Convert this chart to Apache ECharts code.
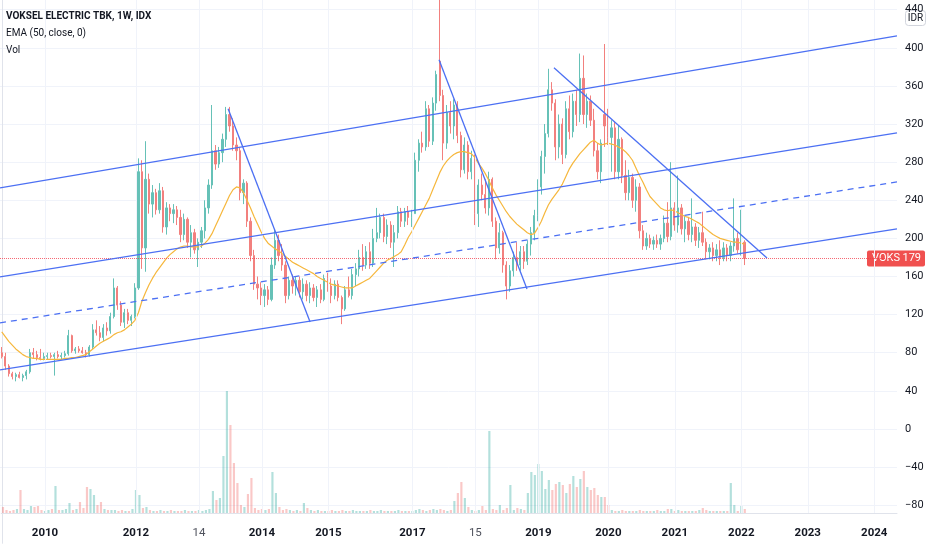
<!DOCTYPE html>
<html>
<head>
<meta charset="utf-8">
<script src="https://cdn.jsdelivr.net/npm/echarts@6/dist/echarts.min.js"></script>
<style>
html, body { margin: 0; padding: 0; background: #fff; }
#main { width: 932px; height: 550px; }
</style>
</head>
<body>
<div id="main"></div>
<script>
// weekly bars, grouped roughly three weeks per slot
var opens = [
  80,76,66,58,55,57,54,56,60,80, 78,75,74,76,77,76,78,76,77,79,
  98,82,84,82,80,78,86,104,101,96, 106,103,118,148,130,112,122,114,118,148,
  270,190,262,236,248,230,250,212,232,226, 230,222,204,220,196,206,188,196,208,232,
  256,292,278,290,304,330,318,298,292,248, 258,218,182,152,148,140,146,136,172,198,
  182,172,140,156,150,156,144,152,140,148, 138,146,136,158,150,140,152,138,126,146,
  140,162,168,180,172,186,174,200,206,222, 202,214,196,206,228,218,228,222,226,282,
  300,296,336,302,342,386,350,300,332,318, 340,308,272,298,270,284,226,256,246,232,
  262,218,190,206,172,150,166,180,172,186, 176,194,206,224,254,286,310,356,342,296,
  320,288,336,312,344,330,368,330,344,324, 292,270,330,318,306,316,270,304,266,248,
  264,240,254,208,192,200,194,198,194,200, 216,202,232,214,232,210,218,204,212,198,
  206,196,186,190,182,188,180,190,182,192, 200,188,196
];
var highs = [
  86,80,68,60,59,60,58,62,84,85, 82,84,80,80,80,80,82,80,82,104,
  99,86,87,86,83,88,110,114,108,110, 112,122,158,150,134,126,126,120,153,284,
  282,302,268,256,252,258,254,238,236,236, 234,230,226,222,214,210,200,212,240,262,
  340,298,296,310,338,338,326,306,296,262, 260,222,188,160,154,152,150,180,210,204,
  194,176,160,162,160,160,158,156,154,152, 150,152,162,164,158,156,156,140,150,160,
  168,174,188,194,192,196,210,232,226,226, 220,218,214,234,232,232,234,230,290,304,
  312,344,340,348,376,452,356,340,344,346, 344,312,306,302,292,288,262,268,262,270,
  264,222,216,208,176,172,186,196,192,192, 198,212,230,262,292,320,378,364,346,330,
  326,344,350,352,356,394,392,352,350,336, 300,304,404,336,324,322,318,306,282,272,
  268,262,258,214,206,204,202,204,204,224, 238,280,238,266,236,224,222,242,216,212,
  228,200,194,196,194,198,196,194,196,242, 206,230,198
];
var lows = [
  74,62,55,52,50,53,50,52,58,74, 72,72,72,73,74,56,74,73,75,77,
  80,79,80,79,75,76,84,98,92,92, 98,100,116,125,108,106,110,108,116,146,
  168,165,226,222,225,226,206,204,218,216, 214,196,198,190,180,184,170,190,200,226,
  252,272,274,280,296,312,292,282,240,236, 212,176,146,136,130,128,130,134,168,176,
  166,132,136,142,140,138,136,134,132,134, 128,132,134,144,132,136,134,110,124,138,
  136,150,160,166,168,168,170,196,200,196, 194,190,170,200,212,212,214,212,226,270,
  290,292,296,298,334,344,282,294,310,304, 300,264,268,262,262,214,212,240,226,224,
  212,178,184,164,136,144,160,166,166,168, 172,182,198,218,246,268,306,334,282,284,
  278,284,304,306,318,322,320,316,318,286, 262,258,296,298,270,262,262,258,240,240,
  232,228,200,188,188,190,188,190,188,196, 196,198,208,206,204,196,198,196,192,190,
  192,178,178,176,176,172,176,176,176,186, 184,182,172
];
var closes = [
  76,66,58,55,57,54,56,60,80,78, 75,74,76,77,76,78,76,77,79,98,
  82,84,82,80,78,86,104,101,96,106, 103,118,148,130,112,122,114,118,148,270,
  190,262,236,248,230,250,212,232,226,230, 222,204,220,196,206,188,196,208,232,256,
  292,278,290,304,330,318,298,292,248,258, 218,182,152,148,140,146,136,172,198,182,
  172,140,156,150,156,144,152,140,148,138, 146,136,158,150,140,152,138,126,146,140,
  162,168,180,172,186,174,200,206,222,202, 214,196,206,228,218,228,222,226,282,300,
  296,336,302,342,372,350,300,332,318,340, 308,272,298,270,284,226,256,246,232,262,
  218,190,206,172,150,166,180,172,186,176, 194,206,224,254,286,310,356,342,296,320,
  288,336,312,344,330,368,330,344,324,292, 270,300,318,306,316,270,304,266,248,264,
  240,254,208,192,200,194,198,194,200,216, 202,232,214,232,210,218,204,212,198,206,
  196,186,190,182,188,180,190,182,192,200, 188,196,179
];
var volumes = [
  6,3,2,3,4,23,4,3,7,6, 7,3,2,3,4,27,3,3,4,10,
  3,4,11,5,26,24,18,8,11,4, 3,3,3,2,3,2,2,4,23,18,
  5,6,3,2,2,3,2,2,3,2, 2,2,3,2,2,2,3,2,3,4,
  22,13,15,57,122,88,50,30,8,6, 19,35,5,3,4,3,4,41,20,6,
  3,4,3,2,3,2,10,5,3,2, 3,2,2,2,3,2,2,3,2,2,
  3,2,2,2,2,3,2,2,3,2, 2,2,2,3,2,2,2,2,3,4,
  3,2,3,4,3,4,3,2,3,12, 20,31,15,6,3,2,3,7,3,82,
  4,3,8,3,5,28,3,5,4,3, 20,41,38,49,42,24,33,23,29,31,
  28,20,29,37,26,34,42,26,23,25, 18,16,16,8,3,2,2,3,2,2,
  2,2,3,2,2,2,2,3,2,2, 4,4,2,3,2,2,2,2,2,3,
  5,3,2,2,2,2,2,2,30,8, 2,7,4
];
var emaValues = [
  102,97,92,88,84,81,78,76,75,74, 74,73,73,73,73,73,73,73,74,74,
  75,75,76,77,78,81,84,87,90,92, 94,96,99,101,102,104,107,110,114,122,
  134,143,151,158,164,169,174,179,183,186, 189,191,192,192,191,191,191,192,195,199,
  205,213,221,229,237,245,251,254,253,248, 240,232,223,215,207,200,195,192,189,187,
  184,181,178,175,173,171,169,167,165,163, 160,158,156,154,152,151,150,149,148,148,
  148,150,152,154,156,158,162,166,170,174, 177,179,181,183,186,193,201,207,214,221,
  228,235,242,251,260,269,276,281,285,288, 290,291,291,290,289,285,279,274,268,261,
  253,246,240,234,228,223,219,215,212,209, 206,204,205,211,218,227,235,241,246,251,
  257,265,273,279,284,289,293,297,301,303, 300,298,299,300,299,298,296,294,291,287,
  282,274,266,259,251,244,240,236,232,230, 229,230,229,227,225,223,222,220,218,216,
  213,210,207,204,202,200,199,198,197,196, 196,195,194
];

var slotCount = 256;
var tickIndex = [12, 38, 56, 74, 93, 117, 135, 153, 173, 192, 211, 230, 249];
var tickText = ['2010', '2012', '14', '2014', '2015', '2017', '15', '2019', '2020', '2021', '2022', '2023', '2024'];

// drawn lines: [slot, price] end points
var channelUpper = [[-0.5, 253.0], [255.5, 412.6]];
var channelMiddle = [[-0.5, 159.6], [255.5, 310.8]];
var channelDashed = [[-0.5, 111.3], [255.5, 259.3]];
var channelLower = [[-0.5, 61.9], [255.5, 210.0]];
var downLineA = [[64.6, 336], [88.0, 112.3]];
var downLineB = [[124.8, 387.4], [149.9, 147]];
var downLineC = [[157.6, 379], [218.4, 179.5]];

var fontStack = "Roboto,'Noto Sans',sans-serif";
var upColor = '#66c1b7', downColor = '#f2807e';
var upVol = 'rgba(38,166,154,0.35)', downVol = 'rgba(239,83,80,0.32)';
var lineBlue = '#4c70f3';
var priceTop = 450.2;

var categories = [];
for (var i = 0; i < slotCount; i++) categories.push(String(i));
var labelAt = {};
tickIndex.forEach(function (idx, k) { labelAt[idx] = tickText[k]; });

var candleData = opens.map(function (o, i) {
  return [o, closes[i], lows[i], highs[i]];
});
var volumeData = volumes.map(function (v, i) {
  return { value: v, itemStyle: { color: closes[i] >= opens[i] ? upVol : downVol } };
});

// horizontal grid: line at -120 sits under the time scale and the top edge line is not wanted
var splitColors = [];
for (var s = 0; s < 16; s++) splitColors.push(s === 0 || s === 15 ? 'rgba(0,0,0,0)' : '#f0f3fa');

function trendSeries(points, dashed) {
  return {
    type: 'line', xAxisIndex: 1, yAxisIndex: 0,
    data: points, symbol: 'none', silent: true, clip: true, z: 5,
    lineStyle: { color: lineBlue, width: 1.3, type: dashed ? [6, 5] : 'solid' }
  };
}

var myChart = echarts.init(document.getElementById('main'));
var lastClose = closes[closes.length - 1];
var titleStyle = { fontSize: 10, color: '#131722', fontFamily: fontStack };

var option = {
  animation: false,
  backgroundColor: '#ffffff',
  title: [
    { text: 'VOKSEL ELECTRIC TBK, 1W, IDX', left: 6, top: 11, padding: 0,
      textStyle: Object.assign({}, titleStyle, { fontWeight: 'bold' }) },
    { text: 'EMA (50, close, 0)', left: 6, top: 28, padding: 0,
      textStyle: Object.assign({}, titleStyle, { fontWeight: 'normal' }) },
    { text: 'Vol', left: 6, top: 45, padding: 0,
      textStyle: Object.assign({}, titleStyle, { fontWeight: 'normal' }) }
  ],
  grid: [
    { left: 0, right: 35, top: 0, bottom: 6.7 },
    { left: 0, right: 35, top: 0, bottom: 37 }
  ],
  xAxis: [
    { type: 'category', gridIndex: 0, data: categories, show: false },
    { type: 'value', gridIndex: 0, min: -0.5, max: 255.5, show: false },
    {
      type: 'category', gridIndex: 1, data: categories,
      axisLine: { lineStyle: { color: '#e0e3eb' } },
      axisTick: { show: false },
      splitLine: { show: false },
      axisLabel: {
        interval: 0, margin: 14, fontFamily: fontStack,
        formatter: function (value, index) {
          var t = labelAt[index];
          if (!t) return '';
          return t.length === 4 ? '{y|' + t + '}' : '{m|' + t + '}';
        },
        rich: {
          y: { fontSize: 11.5, fontWeight: 'bold', color: '#131722', fontFamily: fontStack },
          m: { fontSize: 11.5, color: '#50535e', fontFamily: fontStack }
        }
      }
    }
  ],
  yAxis: [
    {
      type: 'value', gridIndex: 0, position: 'right', min: -120, max: priceTop, interval: 40,
      axisLine: { show: true, lineStyle: { color: '#e0e3eb' } },
      axisTick: { show: false },
      axisLabel: {
        margin: 8, fontSize: 11, color: '#131722', fontFamily: fontStack,
        formatter: function (v) {
          if (v <= -120 || v > 440) return '';
          return v < 0 ? '\u2212' + Math.abs(v) : String(v);
        }
      },
      splitLine: { show: true, lineStyle: { color: splitColors, width: 1 } }
    },
    { type: 'value', gridIndex: 1, min: 0, max: 513, show: false }
  ],
  series: [
    {
      name: 'Vol', type: 'bar', xAxisIndex: 2, yAxisIndex: 1,
      data: volumeData, barWidth: '62%', silent: true, z: 1,
      markLine: {
        silent: true, symbol: 'none', label: { show: false },
        lineStyle: { color: '#f0f3fa', width: 1, type: 'solid' },
        data: tickIndex.map(function (idx) { return { xAxis: idx }; })
      }
    },
    {
      name: 'VOKS', type: 'candlestick', xAxisIndex: 0, yAxisIndex: 0,
      data: candleData, barWidth: 1.7, z: 3,
      itemStyle: {
        color: upColor, color0: downColor,
        borderColor: upColor, borderColor0: downColor, borderWidth: 1
      },
      markLine: {
        silent: true, symbol: 'none', label: { show: false },
        lineStyle: { color: '#f23645', width: 1, type: 'dotted', opacity: 0.75 },
        data: [{ yAxis: lastClose }]
      }
    },
    {
      name: 'EMA', type: 'line', xAxisIndex: 0, yAxisIndex: 0,
      data: emaValues, symbol: 'none', silent: true, z: 4,
      lineStyle: { color: '#f6b73c', width: 1.2 }
    },
    trendSeries(channelUpper),
    trendSeries(channelMiddle),
    trendSeries(channelDashed, true),
    trendSeries(channelLower),
    trendSeries(downLineA),
    trendSeries(downLineB),
    trendSeries(downLineC)
  ]
};

myChart.setOption(option);

// last price tag and currency button on the price scale
var tagY = myChart.convertToPixel({ yAxisIndex: 0 }, lastClose);
myChart.setOption({
  graphic: [
    {
      type: 'group', left: 867, top: tagY - 8, z: 100,
      children: [
        { type: 'rect', shape: { x: 0, y: 0, width: 58, height: 16, r: 2 }, style: { fill: '#f0504f' } },
        { type: 'text', x: 5, y: 8, style: { text: 'VOKS', fill: '#fff', fontSize: 11, fontFamily: fontStack, verticalAlign: 'middle' } },
        { type: 'text', x: 54, y: 8, style: { text: String(lastClose), fill: '#fff', fontSize: 11, fontFamily: fontStack, align: 'right', verticalAlign: 'middle' } }
      ]
    },
    {
      type: 'group', left: 905, top: 10, z: 100,
      children: [
        { type: 'rect', shape: { x: 0, y: 0, width: 20, height: 15, r: 3 }, style: { fill: '#fff', stroke: '#d1d4dc', lineWidth: 1 } },
        { type: 'text', x: 10, y: 7.5, style: { text: 'IDR', fill: '#131722', fontSize: 10, fontFamily: fontStack, align: 'center', verticalAlign: 'middle' } }
      ]
    }
  ]
});
</script>
</body>
</html>
